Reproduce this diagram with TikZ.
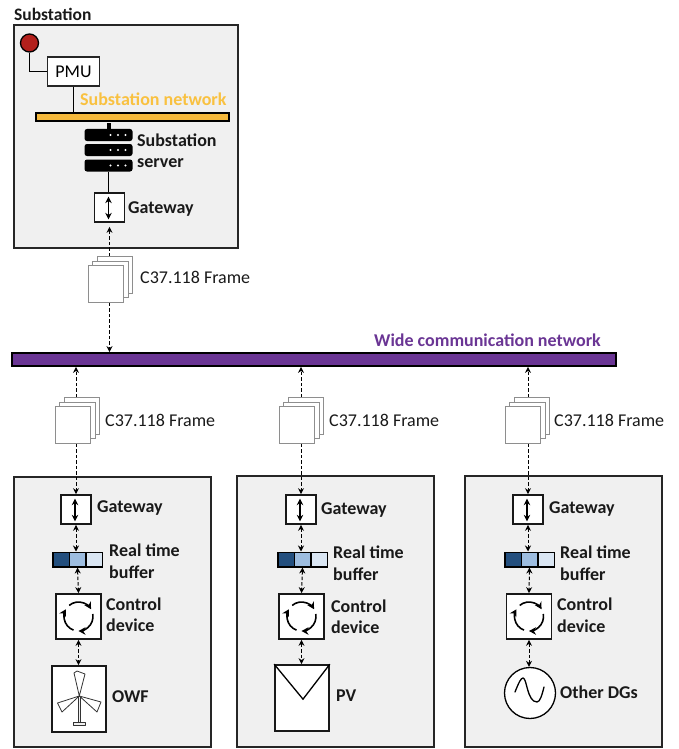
\documentclass[tikz,border=0pt]{standalone}
\usepackage{fontspec}
\setmainfont{Carlito}
\usetikzlibrary{arrows.meta,calc}
\definecolor{panelfill}{HTML}{F0F0F0}
\definecolor{busorange}{HTML}{F5B93C}
\definecolor{labelorange}{HTML}{F9C140}
\definecolor{buspurple}{HTML}{6A3594}
\definecolor{redpmu}{HTML}{B3201C}
\definecolor{blueA}{HTML}{234F7E}
\definecolor{blueB}{HTML}{9DBDE0}
\definecolor{blueC}{HTML}{DAE6F3}
\definecolor{framegray}{HTML}{8E8E8E}
\tikzset{
  x=1pt,y=-1pt,
  panel/.style={draw=black!85,line width=1.7pt,fill=panelfill,inner sep=0pt},
  whitebox/.style={draw=black!90,line width=1.7pt,fill=white,inner sep=0pt},
  thinbox/.style={draw=black!85,line width=1.1pt,fill=white,inner sep=0pt},
  framebox/.style={draw=framegray,line width=1.1pt,fill=white,inner sep=0pt,minimum width=35.5pt,minimum height=36.5pt},
  bus/.style={draw=black,line width=1.8pt,inner sep=0pt},
  cell/.style={draw=black,line width=1.5pt,inner sep=0pt,minimum width=16.5pt,minimum height=14.5pt},
  blabel/.style={font=\fontsize{18}{21.5}\selectfont\bfseries,anchor=west,inner sep=0pt,align=left,text=black!90},
  rlabel/.style={font=\fontsize{18}{21}\selectfont,anchor=west,inner sep=0pt,text=black!90},
  dlink/.style={dash pattern=on 3.5pt off 2pt,line width=1pt,{Stealth[length=6pt,width=6pt]}-{Stealth[length=6pt,width=6pt]}},
  plainlink/.style={dash pattern=on 3.5pt off 2pt,line width=1pt,-{Stealth[length=6pt,width=6pt]}},
  solidlink/.style={line width=1.1pt},
  inarrow/.style={line width=1.6pt,{Stealth[length=6.5pt,width=6.5pt]}-{Stealth[length=6.5pt,width=6.5pt]}},
  cyc/.style={line width=1.6pt,-{Stealth[length=7pt,width=7.5pt]}},
  rack/.style={fill=black,rounded corners=2.5pt,inner sep=0pt,minimum width=48pt,minimum height=12pt},
  gicon/.style={line width=0.8pt,draw=black!80,fill=white,line join=round},
}
% #1 prefix, #2 centre x of stack front, #3 y of front centre, #4 label y
\newcommand{\framestack}[5]{%
  \node[framebox] (#1fb) at (#2+9,#3-9) {};
  \node[framebox] (#1fm) at (#2+4.5,#3-4.5) {};
  \node[framebox] (#1ff) at (#2,#3) {};
  \node[rlabel] (#1fl) at (#4,#5) {C37.118 Frame};
}
\newcommand{\gateway}[3]{%
  \node[whitebox,minimum width=30pt,minimum height=29pt] (#1gw) at (#2,#3) {};
  \draw[inarrow] ($(#1gw.north)+(-1,4.5)$) -- ($(#1gw.south)+(-1,-3.5)$);
}
\newcommand{\cyclebox}[3]{%
  \node[whitebox,minimum width=45pt,minimum height=45pt] (#1cd) at (#2,#3) {};
  \draw[cyc] ($(#1cd.center)+(130:14.5pt)$) arc[start angle=130,end angle=30,radius=14.5pt];
  \draw[cyc] ($(#1cd.center)+(10:14.5pt)$) arc[start angle=10,end angle=-90,radius=14.5pt];
  \draw[cyc] ($(#1cd.center)+(-110:14.5pt)$) arc[start angle=-110,end angle=-210,radius=14.5pt];
}
\newcommand{\bufferbar}[3]{%
  \node[cell,fill=blueA] (#1b1) at (#2-16.5,#3) {};
  \node[cell,fill=blueB] (#1b2) at (#2,#3) {};
  \node[cell,fill=blueC] (#1b3) at (#2+16.5,#3) {};
}
\begin{document}
\begin{tikzpicture}
\useasboundingbox (0,0) rectangle (678,749);
% Substation
\node[panel,minimum width=224pt,minimum height=223pt] (sub) at (126,136.5) {};
\node[blabel,font=\fontsize{17.5}{20}\selectfont\bfseries] (subt) at (14,14.5) {Substation};
\node[circle,draw=black,line width=1.3pt,fill=redpmu,inner sep=0pt,minimum size=18pt] (sensor) at (29.5,43) {};
\node[thinbox,minimum width=52.5pt,minimum height=29pt,font=\fontsize{18}{20}\selectfont] (pmu) at (73.5,71.5) {PMU};
\node[bus,fill=busorange,minimum width=193pt,minimum height=8pt] (subbus) at (132.5,117) {};
\node[blabel,text=labelorange] (subl) at (80,99.5) {Substation network};
\draw[solidlink] (sensor.south) |- (pmu.west);
\draw[solidlink] (pmu.south) -- (pmu.south |- subbus.north);
\node[rack] (r1) at (108.5,135) {};
\node[rack] (r2) at (108.5,150) {};
\node[rack] (r3) at (108.5,165.5) {};
\foreach \r in {r1,r2,r3} \foreach \dx in {2,9.5,17}
  \fill[white] ($(\r.center)+(\dx,0)$) circle[radius=1.2pt];
\draw[line width=4pt] (r1.north) -- ++(0,-5.5);
\node[blabel] (srvl) at (137,150.5) {Substation\\server};
\gateway{s}{109.5}{207.5}
\node[blabel] (sgl) at (128,209) {Gateway};
\draw[solidlink] (r3.south) -- (r3.south |- sgw.north);
% Wide network
\node[bus,fill=buspurple,minimum width=604pt,minimum height=13pt] (wide) at (314,359.5) {};
\node[blabel,text=buspurple] (widel) at (374,340) {Wide communication network};
\framestack{s}{106}{284}{140}{277}
\draw[plainlink] (sgw.south |- sfb.north) -- ($(sgw.south)+(0,4)$);
\draw[plainlink] (sgw.south |- sff.south) -- (sgw.south |- wide.north);
% Column 1
\node[panel,minimum width=197pt,minimum height=270pt] (p1) at (112.5,612) {};
\framestack{a}{73}{425}{105}{420}
\gateway{a}{76}{509.5}
\bufferbar{a}{77.5}{559.5}
\cyclebox{a}{78.5}{616.5}
\node[whitebox,minimum width=54pt,minimum height=66pt] (aload) at (79,699) {};
% turbine
\coordinate (hub) at (79.3,696);
\draw[gicon] (hub) -- (74,673) -- (77,671) -- (85,674) -- cycle;
\draw[gicon] (hub) -- (57.5,703) -- (62,712) -- cycle;
\draw[gicon] (hub) -- (101,702) -- (97,712) -- cycle;
\draw[gicon,fill=panelfill] (78.5,696) rectangle (80.5,722);
\draw[gicon,fill=panelfill] (73,722) rectangle (85,725.5);
\node[blabel] (al1) at (97,508) {Gateway};
\node[blabel] (al2) at (109,561) {Real time\\buffer};
\node[blabel] (al3) at (106,614.5) {Control\\device};
\node[blabel] (al4) at (112,697) {OWF};
% Column 2
\node[panel,minimum width=197pt,minimum height=271pt] (p2) at (335.5,611.5) {};
\framestack{b}{297}{425}{329}{420}
\gateway{b}{301}{509.5}
\bufferbar{b}{302.5}{559.5}
\cyclebox{b}{301.5}{616.5}
\node[whitebox,minimum width=54pt,minimum height=66pt] (bload) at (302,698) {};
\coordinate (bv) at ($(bload.north)+(1,35)$);
\draw[line width=1.3pt] (bload.north west) -- (bv) -- (bload.north east);
\node[blabel] (bl1) at (321,510) {Gateway};
\node[blabel] (bl2) at (333,563) {Real time\\buffer};
\node[blabel] (bl3) at (331,616.5) {Control\\device};
\node[blabel] (bl4) at (336,696) {PV};
% Column 3
\node[panel,minimum width=197pt,minimum height=271pt] (p3) at (563.5,611.5) {};
\framestack{c}{523}{425}{554}{420}
\gateway{c}{528}{509.5}
\bufferbar{c}{529.5}{559.5}
\cyclebox{c}{529}{616.5}
\node[circle,draw=black,line width=1.3pt,fill=white,inner sep=0pt,minimum size=51pt] (cload) at (530,693) {};
\draw[line width=1.3pt,line cap=round] (515,692) .. controls (519,682) and (521,678) .. (523,678) .. controls (527,678) and (527,702) .. (537,702) .. controls (540,702) and (542,695) .. (544,687);
\node[blabel] (cl1) at (549,509) {Gateway};
\node[blabel] (cl2) at (560,563) {Real time\\buffer};
\node[blabel] (cl3) at (557,615) {Control\\device};
\node[blabel] (cl4) at (560,692.5) {Other DGs};
% links of the columns
\foreach \p in {a,b,c}{
  \draw[plainlink] (\p gw.north |- \p fb.north) -- (\p gw.north |- wide.south);
  \draw[plainlink] (\p gw.north |- \p ff.south) -- (\p gw.north);
  \draw[dlink] (\p gw.south) -- (\p gw.south |- \p b2.north);
  \draw[dlink] (\p b2.south) -- (\p cd.north);
}
\draw[dlink] (acd.south) -- (acd.south |- aload.north);
\draw[dlink] (bcd.south) -- (bcd.south |- bload.north);
\draw[dlink] (ccd.south) -- (ccd.south |- cload.north);
\end{tikzpicture}
\end{document}
